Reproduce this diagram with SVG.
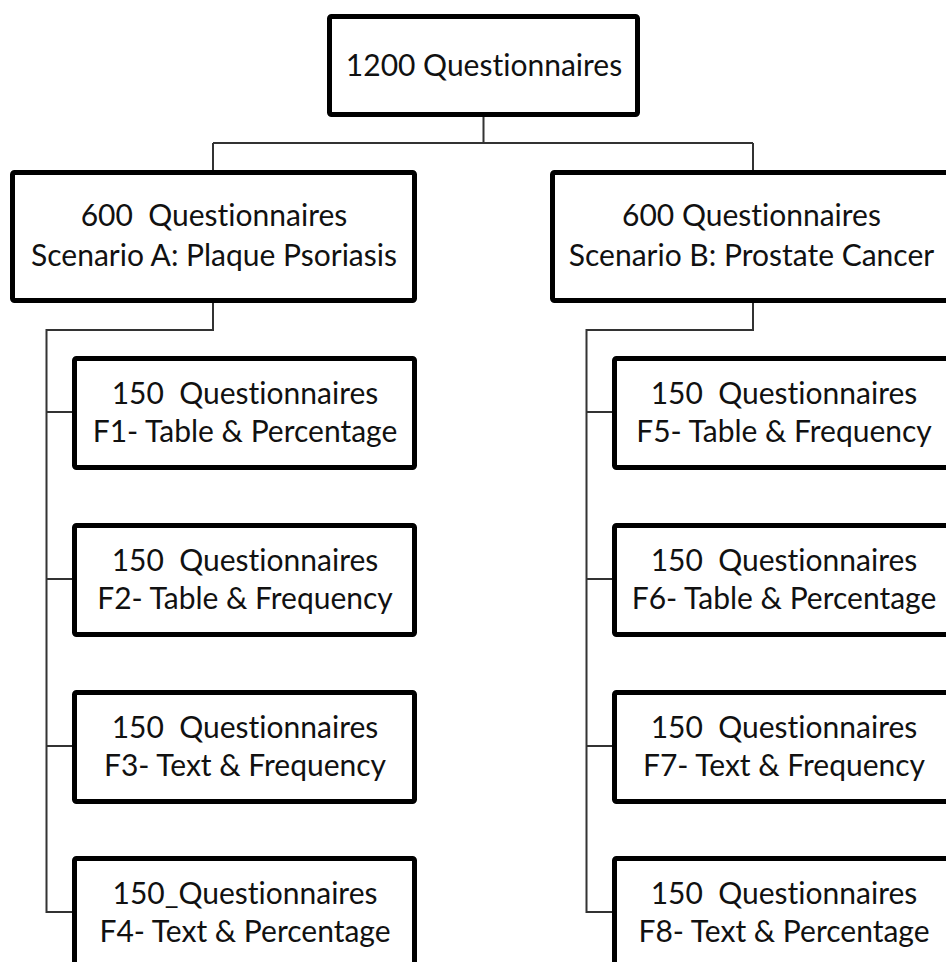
<svg xmlns="http://www.w3.org/2000/svg" width="946" height="962" viewBox="0 0 946 962">
<style>
.box{fill:#fff;stroke:#000;stroke-width:5;stroke-linejoin:round}
.t{font-family:Lato,"Open Sans",sans-serif;font-size:30px;fill:#111;text-anchor:middle;white-space:pre;font-variant-ligatures:none;font-feature-settings:"liga" 0}
.c{fill:none;stroke:#333;stroke-width:2}
</style>
<rect width="946" height="962" fill="#fff"/>
<g id="connectors">
<path class="c" d="M483.5 117V143M213 143H753M213 143V170M753 143V170"/>
<path class="c" d="M213 303V330H46.5V912H72M46.5 412H72M46.5 579H72M46.5 746H72"/>
<path class="c" d="M753 303V330H586.5V912H612M586.5 412H612M586.5 579H612M586.5 746H612"/>
</g>
<g id="root">
<rect class="box" x="329.5" y="16.5" width="308" height="98" rx="2"/>
<text class="t" x="484" y="76">1200 Questionnaires</text>
</g>
<g id="scenarioA">
<rect class="box" x="12.5" y="172.5" width="402" height="128" rx="2"/>
<text class="t" x="214" y="226" xml:space="preserve">600  Questionnaires</text>
<text class="t" x="214" y="266">Scenario A: Plaque Psoriasis</text>
</g>
<g id="scenarioB">
<rect class="box" x="552.5" y="172.5" width="400" height="128" rx="2"/>
<text class="t" x="751.5" y="226">600 Questionnaires</text>
<text class="t" x="751.5" y="266">Scenario B: Prostate Cancer</text>
</g>
<g id="F1">
<rect class="box" x="74.5" y="358.5" width="340" height="109" rx="2"/>
<text class="t" x="245" y="404" xml:space="preserve">150  Questionnaires</text>
<text class="t" x="245" y="442">F1- Table &amp; Percentage</text>
</g>
<g id="F2">
<rect class="box" x="74.5" y="525.5" width="340" height="109" rx="2"/>
<text class="t" x="245" y="571" xml:space="preserve">150  Questionnaires</text>
<text class="t" x="245" y="609">F2- Table &amp; Frequency</text>
</g>
<g id="F3">
<rect class="box" x="74.5" y="692.5" width="340" height="109" rx="2"/>
<text class="t" x="245" y="738" xml:space="preserve">150  Questionnaires</text>
<text class="t" x="245" y="776">F3- Text &amp; Frequency</text>
</g>
<g id="F4">
<rect class="box" x="74.5" y="858.5" width="340" height="109" rx="2"/>
<text class="t" x="245" y="904">150_Questionnaires</text>
<text class="t" x="245" y="942">F4- Text &amp; Percentage</text>
</g>
<g id="F5">
<rect class="box" x="614.5" y="358.5" width="340" height="109" rx="2"/>
<text class="t" x="784" y="404" xml:space="preserve">150  Questionnaires</text>
<text class="t" x="784" y="442">F5- Table &amp; Frequency</text>
</g>
<g id="F6">
<rect class="box" x="614.5" y="525.5" width="340" height="109" rx="2"/>
<text class="t" x="784" y="571" xml:space="preserve">150  Questionnaires</text>
<text class="t" x="784" y="609">F6- Table &amp; Percentage</text>
</g>
<g id="F7">
<rect class="box" x="614.5" y="692.5" width="340" height="109" rx="2"/>
<text class="t" x="784" y="738" xml:space="preserve">150  Questionnaires</text>
<text class="t" x="784" y="776">F7- Text &amp; Frequency</text>
</g>
<g id="F8">
<rect class="box" x="614.5" y="858.5" width="340" height="109" rx="2"/>
<text class="t" x="784" y="904" xml:space="preserve">150  Questionnaires</text>
<text class="t" x="784" y="942">F8- Text &amp; Percentage</text>
</g>
</svg>
